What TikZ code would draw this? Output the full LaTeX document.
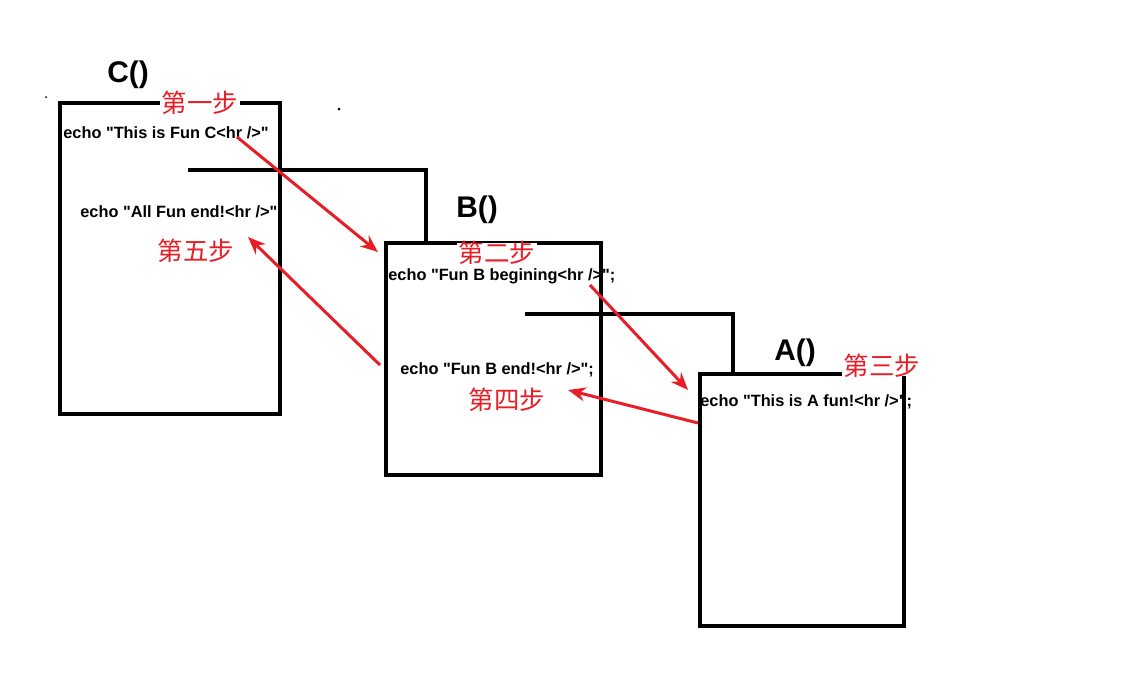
\documentclass[tikz,border=0pt]{standalone}
\usepackage{fontspec}
\setmainfont{Liberation Sans}
\setsansfont{Liberation Sans}
\newfontfamily\echofont{Liberation Sans}
\newfontfamily\cjk{Noto Sans CJK SC}
\usetikzlibrary{arrows.meta}
\definecolor{stepred}{RGB}{232,30,38}
\tikzset{
  fnbox/.style={draw=black,line width=2.3pt,inner sep=0pt},
  fnname/.style={font=\bfseries\fontsize{17}{17}\selectfont,inner sep=0pt},
  echotxt/.style={font=\echofont\bfseries\fontsize{9.3}{10}\selectfont,anchor=west,inner sep=0pt},
  steplbl/.style={font=\cjk\fontsize{14.5}{14.5}\selectfont,text=stepred,fill=white,inner xsep=1pt,inner ysep=-1pt},
  call/.style={draw=black,line width=2.3pt},
  flow/.style={-{Stealth[length=10pt,width=8pt]},draw=stepred,line width=1.7pt},
}

\begin{document}
\begin{tikzpicture}[x=0.02cm,y=-0.02cm]
\useasboundingbox[fill=white] (0,0) rectangle (1146,684);
% function boxes
\node[fnbox,minimum width=4.4cm,minimum height=6.22cm] (cbox) at (170,258.5) {};
\node[fnbox,minimum width=4.3cm,minimum height=4.64cm] (bbox) at (493.5,359) {};
\node[fnbox,minimum width=4.08cm,minimum height=5.04cm] (abox) at (802,500) {};
\node[fnname] (cname) at (128,75) {C()};
\node[fnname] (bname) at (477,210) {B()};
\node[fnname] (aname) at (795,353) {A()};
% stray dots
\fill (46,97) circle (1);
\fill (339,109) circle (1.5);
% calls
\coordinate (ccall) at (188,170);
\coordinate (bcall) at (525,314);
\draw[call] (ccall) -| ([xshift=0.84cm]bbox.north west);
\draw[call] (bcall) -| ([xshift=0.7cm]abox.north west);
% echo lines
\node[echotxt] (ctop) at (63,133) {echo "This is Fun C<hr />"};
\node[echotxt] (cend) at (80,212) {echo "All Fun end!<hr />"};
\node[echotxt] (btop) at (388,276) {echo "Fun B begining<hr />";};
\node[echotxt] (bend) at (400,370) {echo "Fun B end!<hr />";};
\node[echotxt] (atop) at (700,402) {echo "This is A fun!<hr />";};
% steps
\coordinate (s1) at (237,137);
\coordinate (e1) at (378,252);
\coordinate (s2) at (590,285);
\coordinate (e2) at (688,390);
\coordinate (s3) at (698,423);
\coordinate (e3) at (568,390);
\coordinate (s4) at (380,365);
\coordinate (e4) at (248,237);
\draw[flow] (s1) -- (e1);
\draw[flow] (s2) -- (e2);
\draw[flow] (s3) -- (e3);
\draw[flow] (s4) -- (e4);
\node[steplbl] (step1) at (200,103) {第一步};
\node[steplbl] (step2) at (497,253) {第二步};
\node[steplbl] (step3) at (882,366) {第三步};
\node[steplbl] (step4) at (507,400) {第四步};
\node[steplbl] (step5) at (196,251) {第五步};
\end{tikzpicture}
\end{document}
